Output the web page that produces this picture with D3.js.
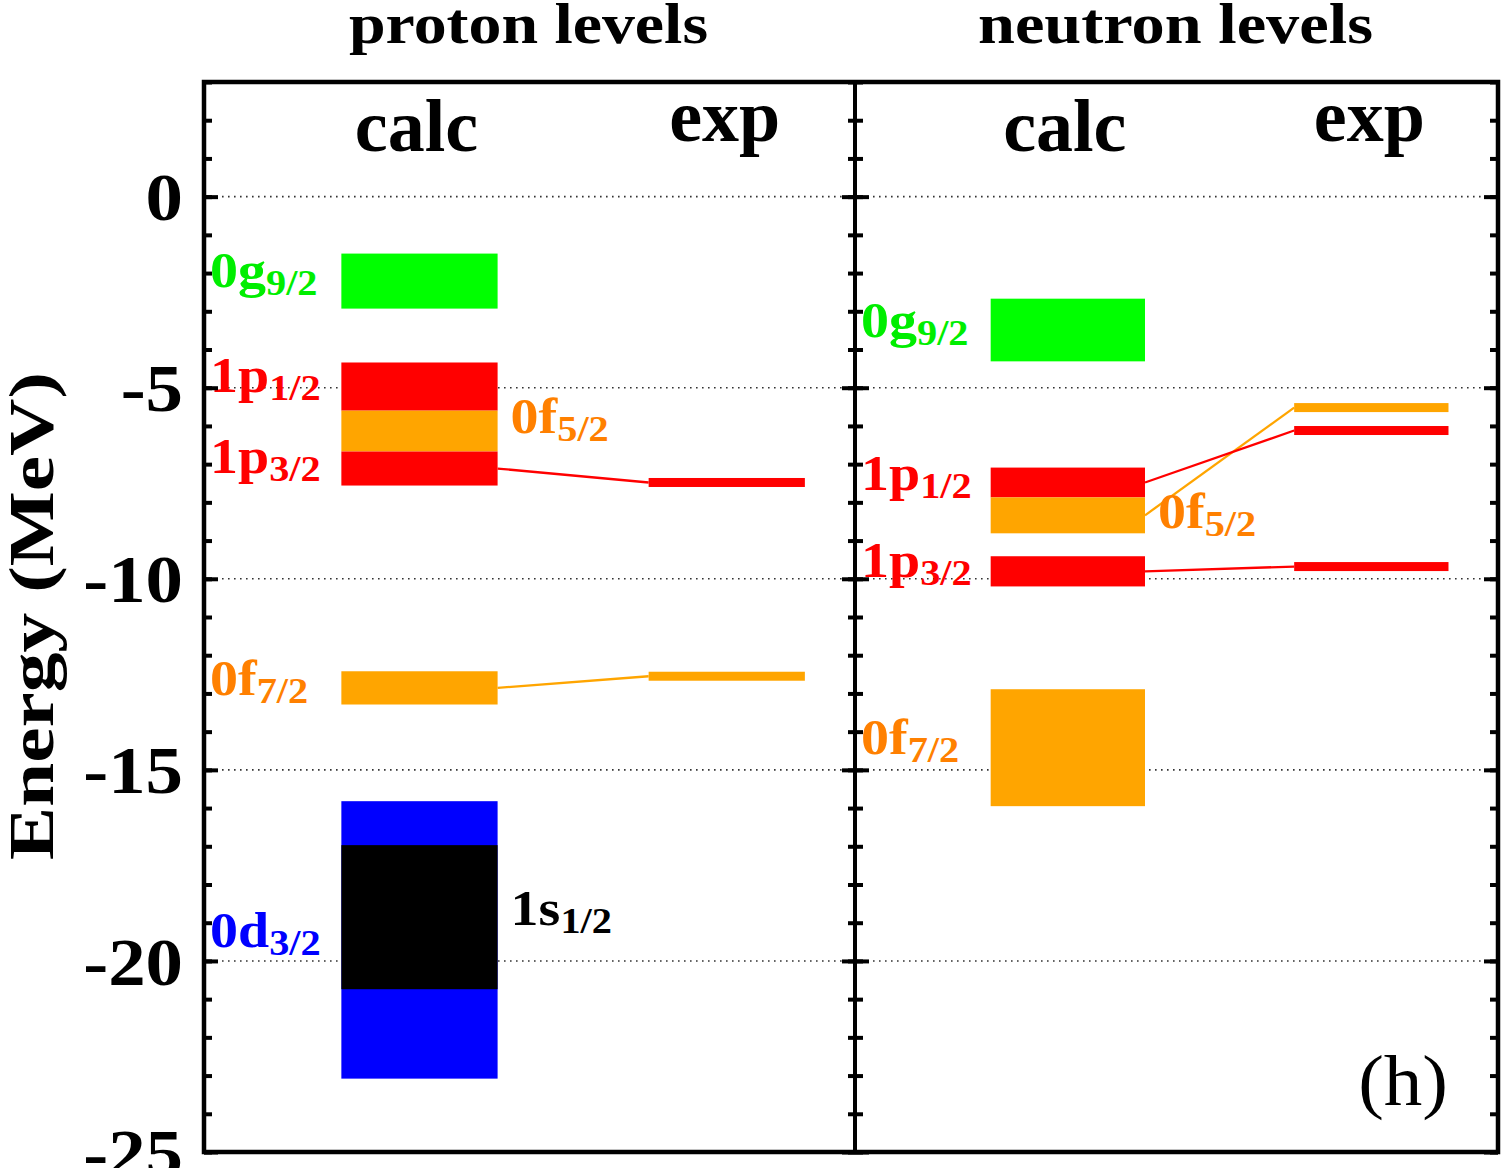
<!DOCTYPE html>
<html><head><meta charset="utf-8">
<script src="https://cdn.jsdelivr.net/npm/d3@7"></script>
<style>
html,body{margin:0;padding:0;background:#fff;}
svg{display:block;}
text{font-family:"Liberation Serif","Times New Roman",serif;}
</style></head><body>
<svg id="chart" width="1503" height="1168"></svg>
<script>
// ---------------- data ----------------
const panelTitles = ["proton levels", "neutron levels"];
const columns = ["calc", "exp"];
const majorTicks = [0, -5, -10, -15, -20, -25];
const minorTicks = d3.range(-25, 4, 1);
const yLabel = "Energy (MeV)";
const panelTag = "(h)";

// proton: calculated bands (MeV), drawn in this order
const protonLevels   = ["0d3/2", "1s1/2", "0g9/2", "1p1/2", "0f5/2", "1p3/2", "0f7/2"];
const protonCalcLow  = [-23.08, -20.74, -2.93, -5.60, -6.67, -7.56, -13.29];
const protonCalcHigh = [-15.82, -16.97, -1.49, -4.34, -5.60, -6.67, -12.42];
const protonLabelE   = [-19.64, -19.06, -2.37, -5.11, -6.19, -7.23, -13.04];
const protonLabelSide = ["left", "right", "left", "left", "right", "left", "left"];
const protonExpLevels = ["1p3/2", "0f7/2"];
const protonExp       = [-7.48, -12.55];

// neutron
const neutronLevels   = ["0g9/2", "1p1/2", "0f5/2", "1p3/2", "0f7/2"];
const neutronCalcLow  = [-4.31, -7.87, -8.81, -10.20, -15.95];
const neutronCalcHigh = [-2.67, -7.09, -7.87, -9.41, -12.89];
const neutronLabelE   = [-3.67, -7.68, -8.67, -9.95, -14.59];
const neutronLabelSide = ["left", "left", "right", "left", "left"];
const neutronExpLevels = ["0f5/2", "1p1/2", "1p3/2"];
const neutronExp       = [-5.52, -6.12, -9.68];

// ---------------- styles ----------------
const barColor = {g: "#00ff00", p: "#ff0000", f: "#ffa500", d: "#0000ff", s: "#000000"};
const textColor = {g: "#00ee00", p: "#ff0000", f: "#ff8000", d: "#0000ff", s: "#000000"};
const orbitalKey = name => name[1];

const svg = d3.select("#chart");
const F = {left: 204, mid: 855, right: 1498, top: 82, bottom: 1152};
const y = d3.scaleLinear().domain([-25, 3]).range([F.bottom, F.top]);
const panelX = [
  d3.scaleLinear().domain([0, 1]).range([F.left, F.mid]),
  d3.scaleLinear().domain([0, 1]).range([F.mid, F.right])
];
const colCenter = d3.scaleOrdinal().domain(columns).range([0.331, 0.803]);
const halfW = 0.12;
const SX = 1.12;

const panels = [
  {levels: protonLevels, lo: protonCalcLow, hi: protonCalcHigh, labE: protonLabelE, side: protonLabelSide,
   expLevels: protonExpLevels, exp: protonExp},
  {levels: neutronLevels, lo: neutronCalcLow, hi: neutronCalcHigh, labE: neutronLabelE, side: neutronLabelSide,
   expLevels: neutronExpLevels, exp: neutronExp}
];

// gridlines
panels.forEach((p, i) => {
  const x = panelX[i];
  svg.append("g").selectAll("line").data(majorTicks.filter(t => t > -25)).join("line")
    .attr("x1", x(0)).attr("x2", x(1))
    .attr("y1", d => y(d)).attr("y2", d => y(d))
    .attr("stroke", "#333").attr("stroke-width", 1.6).attr("stroke-dasharray", "1.6 4.4");
});

function drawLabel(g, x, yy, name, color) {
  const main = name.slice(0, 2), sub = name.slice(2);
  const t = g.append("text")
    .attr("transform", `translate(${x},${yy}) scale(${SX},1)`)
    .attr("fill", color).attr("font-weight", "bold").attr("font-size", 50);
  t.append("tspan").text(main);
  t.append("tspan").attr("dy", 8).attr("font-size", 36).text(sub);
}

panels.forEach((p, i) => {
  const x = panelX[i];
  const g = svg.append("g");
  const cL = x(colCenter("calc") - halfW), cR = x(colCenter("calc") + halfW);
  const eL = x(colCenter("exp") - halfW), eR = x(colCenter("exp") + halfW);
  // calc bands
  g.selectAll("rect.calc").data(p.levels).join("rect").attr("class", "calc")
    .attr("x", cL).attr("width", cR - cL)
    .attr("y", (d, k) => y(p.hi[k]))
    .attr("height", (d, k) => y(p.lo[k]) - y(p.hi[k]))
    .attr("fill", d => barColor[orbitalKey(d)]);
  // connecting lines
  p.expLevels.forEach((name, k) => {
    const j = p.levels.indexOf(name);
    g.append("line")
      .attr("x1", cR).attr("y1", y((p.lo[j] + p.hi[j]) / 2))
      .attr("x2", eL).attr("y2", y(p.exp[k]))
      .attr("stroke", barColor[orbitalKey(name)]).attr("stroke-width", 2.3);
  });
  // exp levels
  g.selectAll("rect.exp").data(p.expLevels).join("rect").attr("class", "exp")
    .attr("x", eL).attr("width", eR - eL)
    .attr("y", (d, k) => y(p.exp[k]) - 4.5).attr("height", 9)
    .attr("fill", d => barColor[orbitalKey(d)]);
  // labels
  p.levels.forEach((name, k) => {
    const lx = p.side[k] === "left" ? x.range()[0] + 6 : cR + 13;
    drawLabel(g, lx, y(p.labE[k]), name, textColor[orbitalKey(name)]);
  });
  // column headers
  g.append("text").attr("x", x(colCenter("calc")) - 3).attr("y", 151)
    .attr("text-anchor", "middle").attr("font-weight", "bold").attr("font-size", 74).text(columns[0]);
  g.append("text").attr("x", x(colCenter("exp")) - 2).attr("y", 141)
    .attr("text-anchor", "middle").attr("font-weight", "bold").attr("font-size", 74).text(columns[1]);
  // panel title
  g.append("text").attr("x", (x.range()[0] + x.range()[1]) / 2 - 1).attr("y", 43)
    .attr("text-anchor", "middle").attr("font-weight", "bold").attr("font-size", 57)
    .attr("textLength", i === 0 ? 359 : 395).attr("lengthAdjust", "spacingAndGlyphs")
    .text(panelTitles[i]);
});

// ticks
function styleAxis(sel) {
  sel.select(".domain").remove();
  sel.selectAll(".tick line").attr("stroke", "#000").attr("stroke-width", 4);
}
// left axis (with labels)
const leftMinor = svg.append("g").attr("transform", `translate(${F.left},0)`)
  .call(d3.axisLeft(y).tickValues(minorTicks).tickSize(-8).tickFormat(""));
styleAxis(leftMinor);
const leftMajor = svg.append("g").attr("transform", `translate(${F.left},0)`)
  .call(d3.axisLeft(y).tickValues(majorTicks).tickSize(-14).tickPadding(21).tickFormat(d => String(d)));
styleAxis(leftMajor);
leftMajor.selectAll(".tick text")
  .attr("font-family", "Liberation Serif, serif").attr("font-weight", "bold").attr("font-size", 68)
  .attr("fill", "#000").attr("x", -21 / 1.1).attr("dy", "0.34em")
  .attr("transform", "scale(1.1,1)");
// right border and middle divider
[[8, minorTicks], [14, majorTicks]].forEach(([len, vals]) => {
  const a = svg.append("g").attr("transform", `translate(${F.right},0)`)
    .call(d3.axisRight(y).tickValues(vals).tickSize(-len).tickFormat(""));
  styleAxis(a);
  const m1 = svg.append("g").attr("transform", `translate(${F.mid},0)`)
    .call(d3.axisLeft(y).tickValues(vals).tickSize(len - 1).tickFormat(""));
  styleAxis(m1);
  const m2 = svg.append("g").attr("transform", `translate(${F.mid},0)`)
    .call(d3.axisRight(y).tickValues(vals).tickSize(len).tickFormat(""));
  styleAxis(m2);
});

// frame
svg.append("rect").attr("x", F.left).attr("y", F.top)
  .attr("width", F.right - F.left).attr("height", F.bottom - F.top)
  .attr("fill", "none").attr("stroke", "#000").attr("stroke-width", 4.5);
svg.append("line").attr("x1", F.mid).attr("x2", F.mid).attr("y1", F.top).attr("y2", F.bottom)
  .attr("stroke", "#000").attr("stroke-width", 4);

// y axis label
svg.append("text").attr("transform", "translate(53,616) rotate(-90)")
  .attr("text-anchor", "middle").attr("font-weight", "bold").attr("font-size", 63)
  .attr("textLength", 488).attr("lengthAdjust", "spacingAndGlyphs").text(yLabel);

// panel tag
svg.append("text").attr("transform", "translate(1448,1105) scale(1.07,1)")
  .attr("text-anchor", "end").attr("font-size", 72).text(panelTag);
</script>
</body></html>
